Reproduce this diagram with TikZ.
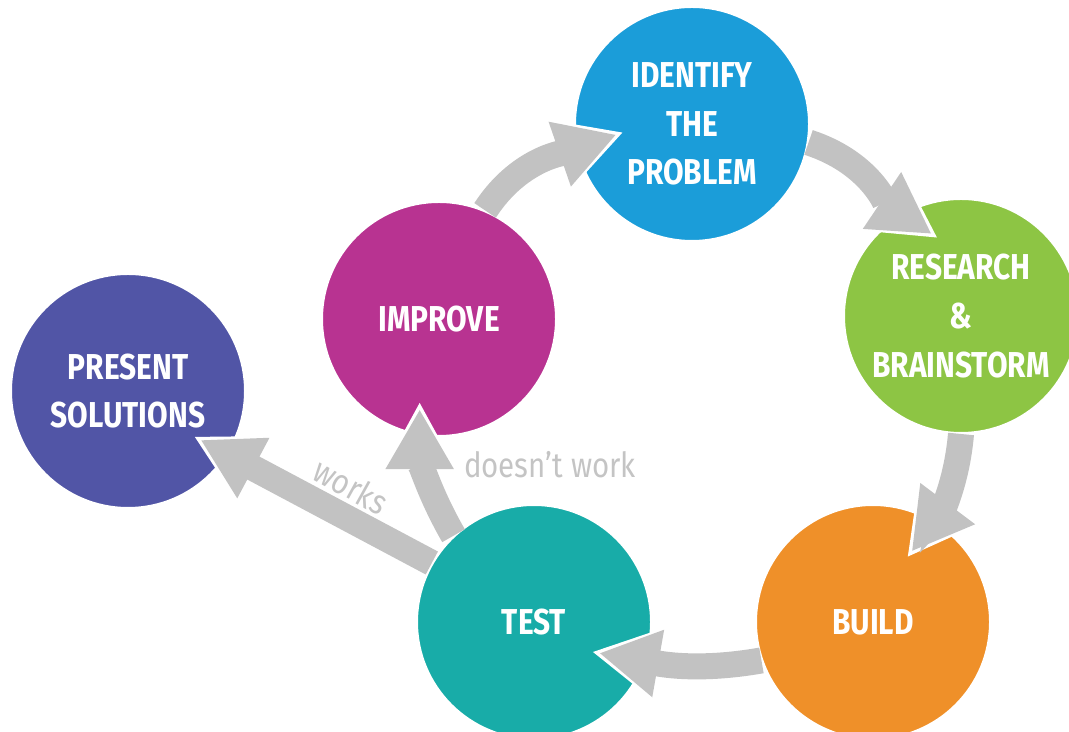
\documentclass[tikz,border=0pt]{standalone}
\usepackage{fontspec}
\usepackage{tikz}
\usetikzlibrary{positioning}
\usetikzlibrary{calc}
\usetikzlibrary{arrows.meta}
\newfontfamily\labelfont{Fira Sans}[FakeStretch=0.83]
\newfontfamily\notefont{Fira Sans}[FakeStretch=0.85]

\begin{document}
\begin{tikzpicture}[x=0.75pt,y=0.75pt,
	stage/.style={circle,minimum size=175.5pt,inner sep=0pt,draw=white,line width=1.5pt,text=white,align=center,font=\labelfont\bfseries\fontsize{27}{36.5}\selectfont},
	rim/.style={draw=white,line width=18pt,-{Triangle[width=48pt,length=45pt,line width=4.5pt,fill=white,color=white]}},
	flow/.style={draw=shaftgray,line width=19.5pt,shorten >=4.8pt,-{Triangle[width=48pt,length=45pt,fill=shaftgray]}},
	note/.style={text=notegray,font=\notefont\fontsize{26}{30}\selectfont}]
				\definecolor{shaftgray}{RGB}{194,194,194}
				\definecolor{notegray}{RGB}{196,196,196}
				\definecolor{identblue}{RGB}{27,157,217}
				\definecolor{researchgreen}{RGB}{141,197,68}
				\definecolor{buildorange}{RGB}{239,144,41}
				\definecolor{testteal}{RGB}{24,172,168}
				\definecolor{improvepink}{RGB}{184,51,145}
				\definecolor{presentpurple}{RGB}{81,85,166}
				\useasboundingbox (0,0) rectangle (1069,731);
				
				\node[stage,fill=identblue] (identify) at (692,607) {IDENTIFY\\THE\\PROBLEM};
				\node[stage,fill=researchgreen] (research) at (961,415) {RESEARCH\\\&\\BRAINSTORM};
				\node[stage,fill=buildorange] (build) at (873,109) {BUILD};
				\node[stage,fill=testteal] (test) at (534,109) {TEST};
				\node[stage,fill=improvepink] (improve) at (439,412) {IMPROVE};
				\node[stage,fill=presentpurple] (present) at (128,340) {PRESENT\\SOLUTIONS};
				
				% cycle
				\draw[rim] (improve.67) to[out=57,in=199] ($(identify)+(187:70)$);
				\draw[flow] (improve.67) to[out=57,in=199] ($(identify)+(187:70)$);
				
				\draw[rim] (identify.-9.5) to[out=-18,in=146] ($(research)+(107:82)$);
				\draw[flow] (identify.-9.5) to[out=-18,in=146] ($(research)+(107:82)$);
				
				\draw[rim] (research.270) to[out=265,in=53] ($(build)+(62:74)$);
				\draw[flow] (research.270) to[out=265,in=53] ($(build)+(62:74)$);
				
				\draw[rim] (build.199) to[out=190,in=-10] ($(test)+(-27:66)$);
				\draw[flow] (build.199) to[out=190,in=-10] ($(test)+(-27:66)$);
				
				% way out
				\draw[rim] (test.133) to[out=120,in=270] ($(improve)+(257:86)$);
				\draw[flow] (test.133) to[out=120,in=270] ($(improve)+(257:86)$);
				
				\draw[rim] (test.150) -- ($(present)+(-34.5:81)$);
				\draw[flow] (test.150) -- ($(present)+(-34.5:81)$);
				
				\node[note,anchor=base] (nowork) at (550,253) {doesn’t work};
				\node[note,rotate=-29] (works) at (351,245) {works};
			\end{tikzpicture}
\end{document}
